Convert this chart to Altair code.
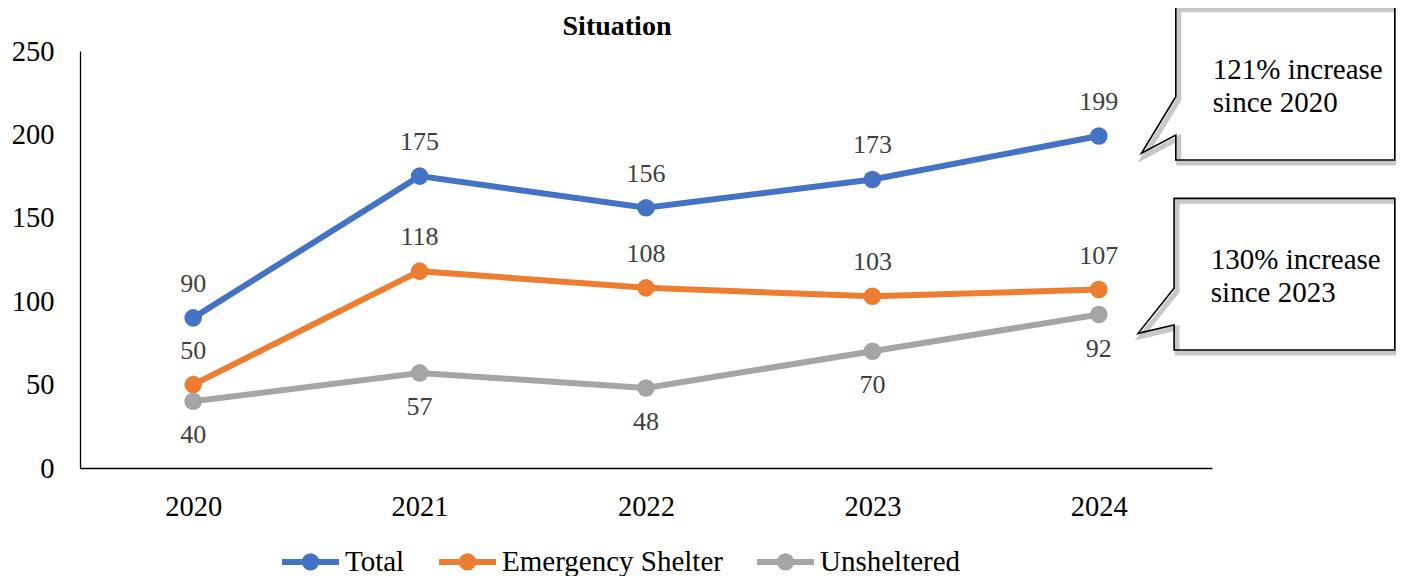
import altair as alt
import pandas as pd

# ---------------- data ----------------
years = ["2020", "2021", "2022", "2023", "2024"]
series_names = ["Total", "Emergency Shelter", "Unsheltered"]
total = [90, 175, 156, 173, 199]
emergency = [50, 118, 108, 103, 107]
unsheltered = [40, 57, 48, 70, 92]
colors = ["#4472C4", "#ED7D31", "#A5A5A5"]
y_ticks = [0, 50, 100, 150, 200, 250]
title_text = "Situation"

callout_series = ["Total", "Unsheltered"]
callout_year = ["2024", "2024"]
callout_value = [199, 92]
callout_text = ["121% increase\nsince 2020", "130% increase\nsince 2023"]

rows = []
for name, vals in zip(series_names, [total, emergency, unsheltered]):
    for yr, v in zip(years, vals):
        rows.append({"Year": yr, "Series": name, "Value": v})
df = pd.DataFrame(rows)

cdf = pd.DataFrame({"Series": callout_series, "Year": callout_year,
                    "Value": callout_value, "Label": callout_text})

FONT = "Liberation Serif"

x_enc = alt.X("Year:O", scale=alt.Scale(type="point", padding=0.5, domain=years),
              axis=alt.Axis(labelAngle=0, labelPadding=24, title=None))
y_enc = alt.Y("Value:Q", scale=alt.Scale(domain=[0, 250], nice=False),
              axis=alt.Axis(values=y_ticks, labelPadding=26, title=None))

legend_symbol = ("M-1,0L1,0 "
                 "M0.2,0A0.2,0.2 0 1,1 -0.2,0A0.2,0.2 0 1,1 0.2,0 "
                 "M0.06,0A0.06,0.06 0 1,1 -0.06,0A0.06,0.06 0 1,1 0.06,0")

color_enc = alt.Color(
    "Series:N",
    scale=alt.Scale(domain=series_names, range=colors),
    sort=series_names,
    legend=alt.Legend(
        title=None, orient="none", direction="horizontal",
        legendX=199, legendY=479, padding=0,
        symbolType=legend_symbol, symbolSize=3249, symbolStrokeWidth=6,
        labelFont=FONT, labelFontSize=29, labelColor="black", labelLimit=0,
        labelOffset=3, columnPadding=22,
    ),
)

base = alt.Chart(df)

lines = base.mark_line(
    strokeWidth=6,
    point=alt.OverlayMarkDef(filled=True, size=310, opacity=1),
).encode(x=x_enc, y=y_enc, color=color_enc)

labels_above = base.transform_filter(
    alt.FieldOneOfPredicate(field="Series", oneOf=["Total", "Emergency Shelter"])
).mark_text(dy=-34, fontSize=26, font=FONT, color="#404040").encode(
    x=x_enc, y=y_enc, text="Value:Q")

labels_below = base.transform_filter(
    alt.FieldEqualPredicate(field="Series", equal="Unsheltered")
).mark_text(dy=34, fontSize=26, font=FONT, color="#404040").encode(
    x=x_enc, y=y_enc, text="Value:Q")

# callout shapes (pixel geometry relative to anchor point; size=4 -> scale 1)
shape1 = "M77,-129.4L296,-129.4L296,23.9L77,23.9L77,-1.1L42.7,17.2L77,-39.4Z"
shape2 = "M75.3,-116.2L296,-116.2L296,35.5L75.3,35.5L75.3,10.5L39.3,18.8L75.3,-26.2Z"


def callout(idx, shape, dx, dy):
    c = alt.Chart(cdf.iloc[[idx]])
    fill = c.mark_point(shape=shape, size=4, filled=True, color="white",
                        opacity=1, strokeWidth=0).encode(x=x_enc, y=y_enc)
    shadow = c.mark_point(shape=shape, size=4, filled=False, color="#C8C8C8",
                          opacity=1, strokeWidth=5, xOffset=3, yOffset=3).encode(x=x_enc, y=y_enc)
    outline = c.mark_point(shape=shape, size=4, filled=False, color="black",
                           opacity=1, strokeWidth=1.6).encode(x=x_enc, y=y_enc)
    text = c.mark_text(align="left", baseline="alphabetic", dx=dx, dy=dy,
                       lineBreak="\n", lineHeight=33, fontSize=29, font=FONT,
                       color="black").encode(x=x_enc, y=y_enc, text="Label:N")
    return [fill, shadow, outline, text]


title = alt.Chart(pd.DataFrame({"t": [title_text]})).mark_text(
    fontWeight="bold", fontSize=28, font=FONT, align="center",
    baseline="alphabetic", color="black",
).encode(x=alt.value(537), y=alt.value(-16), text="t:N")

chart = alt.layer(
    lines, labels_above, labels_below,
    *callout(0, shape1, 114, -56.6),
    *callout(1, shape2, 112, -46),
    title,
).properties(
    width=1132, height=417,
    autosize=alt.AutoSizeParams(type="none"),
    padding={"left": 72, "top": 43, "right": 184, "bottom": 108},
).configure_view(stroke=None).configure_axis(
    labelFont=FONT, labelFontSize=28.5, labelColor="black",
    domainColor="black", domainWidth=1.3, ticks=False, grid=False,
)

chart.save("out.html", embed_options={"renderer": "svg", "actions": False})
